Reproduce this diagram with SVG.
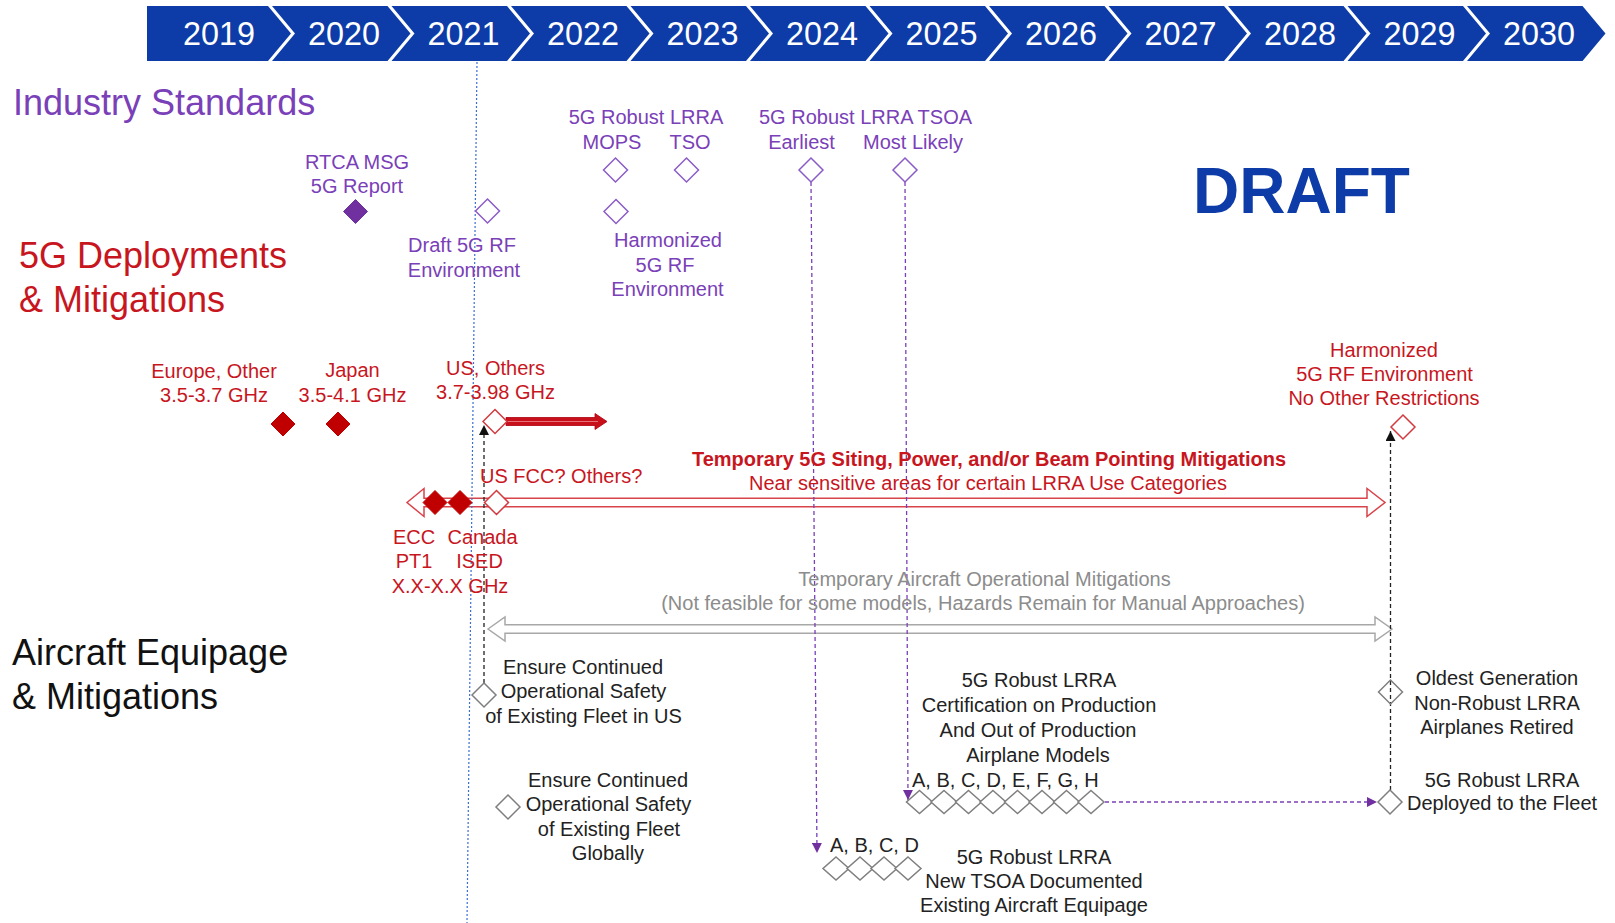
<svg xmlns="http://www.w3.org/2000/svg" width="1615" height="923" viewBox="0 0 1615 923">
<style>
.chev{fill:#0d3ca8}
.yr{font-family:"Liberation Sans",Arial,sans-serif;font-size:34px;fill:#fff;text-anchor:middle}
.h{font-family:"Liberation Sans",Arial,sans-serif;font-size:36px}
.t{font-family:"Liberation Sans",Arial,sans-serif;font-size:20px;text-anchor:middle}
.s{text-anchor:start}
.b{font-weight:bold}
.pu{fill:#7a40b8}
.rd{fill:#c8161e}
.gy{fill:#8c8c8c}
.bk{fill:#222}
.dp{fill:#fff;stroke:#8b5cc8;stroke-width:1.5}
.dpf{fill:#7030a0;stroke:#7030a0;stroke-width:1}
.dr{fill:#fff;stroke:#d33a40;stroke-width:1.5}
.drf{fill:#c00000;stroke:#c00000;stroke-width:1}
.dg{fill:#fff;stroke:#7f7f7f;stroke-width:1.5}
.lp{fill:none;stroke:#7a40b8;stroke-width:1.3;stroke-dasharray:4 3}
.lb{fill:none;stroke:#222;stroke-width:1.3;stroke-dasharray:4 3}
</style>
<defs>
<path id="dm" d="M0,-12 L12,0 L0,12 L-12,0 Z"/>
<path id="dc" d="M0,-11.5 L13,0 L0,11.5 L-13,0 Z"/>
<marker id="ap" viewBox="0 0 10 10" refX="10" refY="5" markerWidth="10" markerHeight="10" markerUnits="userSpaceOnUse" orient="auto"><path d="M0,0 L10,5 L0,10 Z" fill="#7030a0"/></marker>
<marker id="ab" viewBox="0 0 10 10" refX="10" refY="5" markerWidth="10" markerHeight="10" markerUnits="userSpaceOnUse" orient="auto"><path d="M0,0 L10,5 L0,10 Z" fill="#111"/></marker>
</defs>
<rect width="1615" height="923" fill="#fff"/>

<g id="timeline">
<g id="y2019"><polygon class="chev" points="147,6 268,6 291,33.5 268,61 147,61"/><text class="yr" x="219" y="45" textLength="72" lengthAdjust="spacingAndGlyphs">2019</text></g>
<g id="y2020"><polygon class="chev" points="272,6 387.5,6 410.5,33.5 387.5,61 272,61 295,33.5"/><text class="yr" x="344" y="45" textLength="72" lengthAdjust="spacingAndGlyphs">2020</text></g>
<g id="y2021"><polygon class="chev" points="391.5,6 507,6 530,33.5 507,61 391.5,61 414.5,33.5"/><text class="yr" x="463.5" y="45" textLength="72" lengthAdjust="spacingAndGlyphs">2021</text></g>
<g id="y2022"><polygon class="chev" points="511,6 626.5,6 649.5,33.5 626.5,61 511,61 534,33.5"/><text class="yr" x="583" y="45" textLength="72" lengthAdjust="spacingAndGlyphs">2022</text></g>
<g id="y2023"><polygon class="chev" points="630.5,6 746,6 769,33.5 746,61 630.5,61 653.5,33.5"/><text class="yr" x="702.5" y="45" textLength="72" lengthAdjust="spacingAndGlyphs">2023</text></g>
<g id="y2024"><polygon class="chev" points="750,6 865.5,6 888.5,33.5 865.5,61 750,61 773,33.5"/><text class="yr" x="822" y="45" textLength="72" lengthAdjust="spacingAndGlyphs">2024</text></g>
<g id="y2025"><polygon class="chev" points="869.5,6 985,6 1008,33.5 985,61 869.5,61 892.5,33.5"/><text class="yr" x="941.5" y="45" textLength="72" lengthAdjust="spacingAndGlyphs">2025</text></g>
<g id="y2026"><polygon class="chev" points="989,6 1104.5,6 1127.5,33.5 1104.5,61 989,61 1012,33.5"/><text class="yr" x="1061" y="45" textLength="72" lengthAdjust="spacingAndGlyphs">2026</text></g>
<g id="y2027"><polygon class="chev" points="1108.5,6 1224,6 1247,33.5 1224,61 1108.5,61 1131.5,33.5"/><text class="yr" x="1180.5" y="45" textLength="72" lengthAdjust="spacingAndGlyphs">2027</text></g>
<g id="y2028"><polygon class="chev" points="1228,6 1343.5,6 1366.5,33.5 1343.5,61 1228,61 1251,33.5"/><text class="yr" x="1300" y="45" textLength="72" lengthAdjust="spacingAndGlyphs">2028</text></g>
<g id="y2029"><polygon class="chev" points="1347.5,6 1463,6 1486,33.5 1463,61 1347.5,61 1370.5,33.5"/><text class="yr" x="1419.5" y="45" textLength="72" lengthAdjust="spacingAndGlyphs">2029</text></g>
<g id="y2030"><polygon class="chev" points="1467,6 1582.5,6 1605.5,33.5 1582.5,61 1467,61 1490,33.5"/><text class="yr" x="1539" y="45" textLength="72" lengthAdjust="spacingAndGlyphs">2030</text></g>
</g>

<g id="headings">
<text class="h pu" x="13" y="115">Industry Standards</text>
<text class="h rd" x="19" y="268">5G Deployments</text>
<text class="h rd" x="19" y="312">&amp; Mitigations</text>
<text class="h" fill="#111" x="12" y="665">Aircraft Equipage</text>
<text class="h" fill="#111" x="12" y="709">&amp; Mitigations</text>
<text font-family="Liberation Sans, Arial, sans-serif" font-weight="bold" font-size="64" fill="#0d3ca8" x="1193" y="213">DRAFT</text>
</g>

<g id="bars">
<path d="M407,502.5 L424,488.5 L424,498.2 L1367,498.2 L1367,488.5 L1385,502.5 L1367,516.5 L1367,506.8 L424,506.8 L424,516.5 Z" fill="none" stroke="#d9434a" stroke-width="1.5"/>
<path d="M488,629 L505,617 L505,624.8 L1375,624.8 L1375,617 L1392,629 L1375,641 L1375,633.2 L505,633.2 L505,641 Z" fill="none" stroke="#a8a8a8" stroke-width="1.5"/>
<path d="M506,417.5 L595,417.5 L595,413.5 L607,421.5 L595,429.5 L595,425.5 L506,425.5 Z" fill="#c8101a" stroke="#b00010" stroke-width="0.8"/>
<line x1="508" y1="421.5" x2="598" y2="421.5" stroke="#e8707a" stroke-width="1.2"/>
</g>

<g id="connectors">
<line x1="477" y1="62" x2="467" y2="923" stroke="#3a6fd0" stroke-width="1.2" stroke-dasharray="2 2"/>
<line class="lp" x1="811" y1="182" x2="817" y2="853" marker-end="url(#ap)"/>
<line class="lp" x1="905" y1="182" x2="908" y2="800" marker-end="url(#ap)"/>
<line class="lp" x1="1105" y1="802" x2="1377" y2="802" stroke-dasharray="3 3" marker-end="url(#ap)"/>
<line class="lb" x1="484" y1="683" x2="484" y2="425" marker-end="url(#ab)"/>
<line class="lb" x1="1390.5" y1="790" x2="1390.5" y2="431" marker-end="url(#ab)"/>
</g>

<g id="rtca-msg"><use href="#dm" class="dpf" x="355.5" y="211.5"/><text class="t pu" x="357" y="169">RTCA MSG</text><text class="t pu" x="357" y="193">5G Report</text></g>
<g id="draft-rf"><use href="#dm" class="dp" x="487.5" y="211"/><text class="t pu" x="462" y="251.5">Draft 5G RF</text><text class="t pu" x="464" y="276.5">Environment</text></g>
<g id="mops-tso-label"><text class="t pu" x="646" y="124">5G Robust LRRA</text></g>
<g id="mops"><use href="#dm" class="dp" x="615.5" y="170"/><text class="t pu" x="612" y="149">MOPS</text></g>
<g id="tso"><use href="#dm" class="dp" x="686.5" y="170"/><text class="t pu" x="690" y="149">TSO</text></g>
<g id="harmonized-rf"><use href="#dm" class="dp" x="616" y="211.5"/><text class="t pu" x="668" y="247">Harmonized</text><text class="t pu" x="665" y="272">5G RF</text><text class="t pu" x="667.5" y="296">Environment</text></g>
<g id="tsoa-label"><text class="t pu" x="865.5" y="124">5G Robust LRRA TSOA</text></g>
<g id="tsoa-earliest"><use href="#dm" class="dp" x="811" y="170"/><text class="t pu" x="801.5" y="149">Earliest</text></g>
<g id="tsoa-likely"><use href="#dm" class="dp" x="905" y="170"/><text class="t pu" x="913" y="149">Most Likely</text></g>

<g id="europe"><use href="#dm" class="drf" x="283" y="424"/><text class="t rd" x="214" y="378">Europe, Other</text><text class="t rd" x="214" y="402">3.5-3.7 GHz</text></g>
<g id="japan"><use href="#dm" class="drf" x="338" y="424"/><text class="t rd" x="352.5" y="377">Japan</text><text class="t rd" x="352.5" y="402">3.5-4.1 GHz</text></g>
<g id="us-others"><use href="#dm" class="dr" x="495" y="421.5"/><text class="t rd" x="495.5" y="375">US, Others</text><text class="t rd" x="495.5" y="399">3.7-3.98 GHz</text></g>
<g id="harmonized-final"><use href="#dm" class="dr" x="1403" y="427"/><text class="t rd" x="1384" y="357">Harmonized</text><text class="t rd" x="1384.5" y="381">5G RF Environment</text><text class="t rd" x="1384" y="405">No Other Restrictions</text></g>
<g id="ecc"><use href="#dm" class="drf" x="435" y="502.5"/><text class="t rd" x="414" y="544">ECC</text><text class="t rd" x="414" y="568">PT1</text></g>
<g id="canada"><use href="#dm" class="drf" x="460" y="502.5"/><text class="t rd" x="482.5" y="544">Canada</text><text class="t rd" x="479.5" y="568">ISED</text><text class="t rd" x="450" y="593">X.X-X.X GHz</text></g>
<g id="us-fcc"><use href="#dm" class="dr" x="496.5" y="502.5"/><text class="t rd s" x="480" y="483">US FCC? Others?</text></g>
<g id="siting-label"><text class="t rd b" x="989" y="465.5">Temporary 5G Siting, Power, and/or Beam Pointing Mitigations</text><text class="t rd" x="988" y="490">Near sensitive areas for certain LRRA Use Categories</text></g>
<g id="aircraft-ops-label"><text class="t gy" x="984.5" y="586">Temporary Aircraft Operational Mitigations</text><text class="t gy" x="983" y="610">(Not feasible for some models, Hazards Remain for Manual Approaches)</text></g>

<g id="ensure-us"><use href="#dm" class="dg" x="484" y="695"/><text class="t bk" x="583" y="674">Ensure Continued</text><text class="t bk" x="583.5" y="698">Operational Safety</text><text class="t bk" x="583.5" y="722.5">of Existing Fleet in US</text></g>
<g id="ensure-global"><use href="#dm" class="dg" x="508" y="807"/><text class="t bk" x="608" y="787">Ensure Continued</text><text class="t bk" x="608.5" y="811">Operational Safety</text><text class="t bk" x="609" y="835.5">of Existing Fleet</text><text class="t bk" x="608" y="859.5">Globally</text></g>
<g id="cert-production"><text class="t bk" x="1039" y="687">5G Robust LRRA</text><text class="t bk" x="1039" y="712">Certification on Production</text><text class="t bk" x="1038" y="737">And Out of Production</text><text class="t bk" x="1038" y="761.5">Airplane Models</text><text class="t bk s" x="912" y="787">A, B, C, D, E, F, G, H</text>
<use href="#dc" class="dg" x="919.5" y="802"/><use href="#dc" class="dg" x="944" y="802"/><use href="#dc" class="dg" x="968.5" y="802"/><use href="#dc" class="dg" x="993" y="802"/><use href="#dc" class="dg" x="1017.5" y="802"/><use href="#dc" class="dg" x="1042" y="802"/><use href="#dc" class="dg" x="1066.5" y="802"/><use href="#dc" class="dg" x="1091" y="802"/></g>
<g id="new-tsoa"><text class="t bk s" x="830" y="852">A, B, C, D</text><use href="#dc" class="dg" x="836" y="868.5"/><use href="#dc" class="dg" x="860" y="868.5"/><use href="#dc" class="dg" x="884" y="868.5"/><use href="#dc" class="dg" x="908" y="868.5"/>
<text class="t bk" x="1034" y="863.5">5G Robust LRRA</text><text class="t bk" x="1034" y="887.5">New TSOA Documented</text><text class="t bk" x="1034" y="911.5">Existing Aircraft Equipage</text></g>
<g id="oldest-retired"><use href="#dm" class="dg" x="1390.5" y="692" style="fill:none"/><text class="t bk" x="1497" y="685">Oldest Generation</text><text class="t bk" x="1497" y="709.5">Non-Robust LRRA</text><text class="t bk" x="1497" y="734">Airplanes Retired</text></g>
<g id="deployed"><use href="#dm" class="dg" x="1390" y="802"/><text class="t bk" x="1502" y="786.5">5G Robust LRRA</text><text class="t bk" x="1502" y="810">Deployed to the Fleet</text></g>
</svg>
